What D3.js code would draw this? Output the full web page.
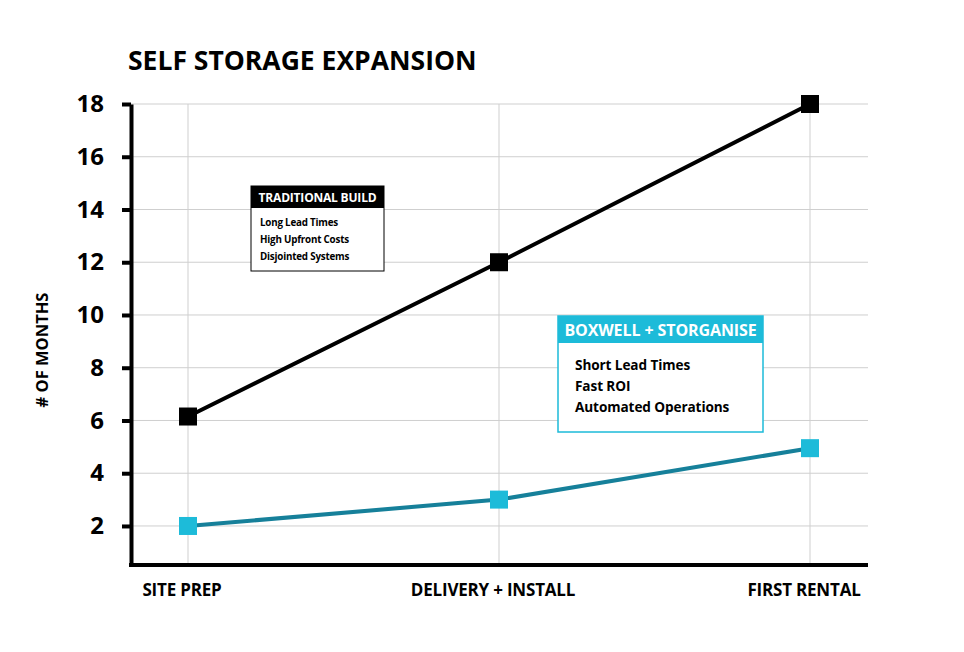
<!DOCTYPE html>
<html><head><meta charset="utf-8">
<script src="https://cdn.jsdelivr.net/npm/d3@7"></script>
<style>body{margin:0;background:#fff;} text{font-family:"Open Sans","DejaVu Sans",sans-serif;font-weight:700;}</style>
</head><body>
<svg id="c" width="964" height="652"></svg>
<script>
const categories = ["SITE PREP", "DELIVERY + INSTALL", "FIRST RENTAL"];
const traditional = [6.15, 12, 18];
const boxwell = [2, 3, 4.95];
const yTicks = [2, 4, 6, 8, 10, 12, 14, 16, 18];
const tradItems = ["Long Lead Times", "High Upfront Costs", "Disjointed Systems"];
const boxItems = ["Short Lead Times", "Fast ROI", "Automated Operations"];

(function () {
const svg = d3.select("#c");
const pLeft = 131, pRight = 868, pTop = 104, pBottom = 565;
const x = d3.scalePoint().domain(categories).range([188, 810]);
const y = d3.scaleLinear().domain([0.52, 18]).range([pBottom, pTop]);

// grid
svg.append("g").selectAll("line").data(yTicks).join("line")
  .attr("x1", pLeft).attr("x2", pRight).attr("y1", d => y(d)).attr("y2", d => y(d))
  .attr("stroke", "#cfcfcf").attr("stroke-width", 1);
svg.append("g").selectAll("line").data(categories).join("line")
  .attr("x1", d => x(d)).attr("x2", d => x(d)).attr("y1", pTop).attr("y2", pBottom)
  .attr("stroke", "#cfcfcf").attr("stroke-width", 1);

// y axis
const yAxis = d3.axisLeft(y).tickValues(yTicks).tickSize(9).tickPadding(18).tickSizeOuter(0);
const ya = svg.append("g").attr("transform", `translate(${pLeft},0)`).call(yAxis);
ya.select(".domain").attr("stroke", "#000").attr("stroke-width", 4);
ya.selectAll(".tick line").attr("stroke", "#000").attr("stroke-width", 4);
ya.selectAll(".tick text").attr("font-size", 24).attr("fill", "#000")
  .style("font-family", '"Open Sans",sans-serif').style("font-weight", 700);

// x axis line
svg.append("line").attr("x1", pLeft - 2).attr("x2", pRight).attr("y1", pBottom).attr("y2", pBottom)
  .attr("stroke", "#000").attr("stroke-width", 4);
svg.append("g").selectAll("text").data(categories).join("text")
  .attr("x", d => x(d) - 6).attr("y", 596).attr("text-anchor", "middle")
  .attr("font-size", 17).attr("fill", "#000").attr("letter-spacing", -0.2).text(d => d);

// title
svg.append("text").attr("x", 128).attr("y", 70).attr("font-size", 26.5)
  .attr("fill", "#000").text("SELF STORAGE EXPANSION");
// y title
svg.append("text").attr("transform", "translate(48,350) rotate(-90)").attr("text-anchor", "middle")
  .attr("font-size", 16.5).attr("fill", "#000").text("# OF MONTHS");

// lines
const line = d3.line().x((d, i) => x(categories[i])).y(d => y(d));
svg.append("path").datum(traditional).attr("d", line).attr("fill", "none")
  .attr("stroke", "#000").attr("stroke-width", 4);
svg.append("path").datum(boxwell).attr("d", line).attr("fill", "none")
  .attr("stroke", "#16809a").attr("stroke-width", 4);
const s = 18;
svg.append("g").selectAll("rect").data(traditional).join("rect")
  .attr("x", (d, i) => x(categories[i]) - s / 2).attr("y", d => y(d) - s / 2)
  .attr("width", s).attr("height", s).attr("fill", "#000");
svg.append("g").selectAll("rect").data(boxwell).join("rect")
  .attr("x", (d, i) => x(categories[i]) - s / 2).attr("y", d => y(d) - s / 2)
  .attr("width", s).attr("height", s).attr("fill", "#1dbbd9");

// legend 1
const l1 = svg.append("g").attr("transform", "translate(251,186)");
l1.append("rect").attr("width", 133).attr("height", 85).attr("fill", "#fff").attr("stroke", "#000").attr("stroke-width", 1);
l1.append("rect").attr("width", 133).attr("height", 22).attr("fill", "#000");
l1.append("text").attr("x", 66.5).attr("y", 16).attr("text-anchor", "middle").attr("font-size", 12)
  .attr("fill", "#fff").attr("letter-spacing", -0.2).text("TRADITIONAL BUILD");
l1.selectAll("text.it").data(tradItems).join("text").attr("class", "it")
  .attr("x", 9).attr("y", (d, i) => 40 + i * 17).attr("font-size", 9.8).attr("fill", "#000")
  .attr("letter-spacing", -0.2).text(d => d);

// legend 2
const l2 = svg.append("g").attr("transform", "translate(558,316)");
l2.append("rect").attr("width", 205).attr("height", 116).attr("fill", "#fff").attr("stroke", "#1dbbd9").attr("stroke-width", 1.5);
l2.append("rect").attr("width", 205).attr("height", 27).attr("fill", "#1dbbd9");
l2.append("text").attr("x", 102.5).attr("y", 19.5).attr("text-anchor", "middle").attr("font-size", 16)
  .attr("fill", "#fff").attr("letter-spacing", -0.1).text("BOXWELL + STORGANISE");
l2.selectAll("text.it").data(boxItems).join("text").attr("class", "it")
  .attr("x", 17).attr("y", (d, i) => 54 + i * 21).attr("font-size", 13.6).attr("fill", "#000")
  .attr("letter-spacing", -0.1).text(d => d);
})();
</script>
</body></html>
